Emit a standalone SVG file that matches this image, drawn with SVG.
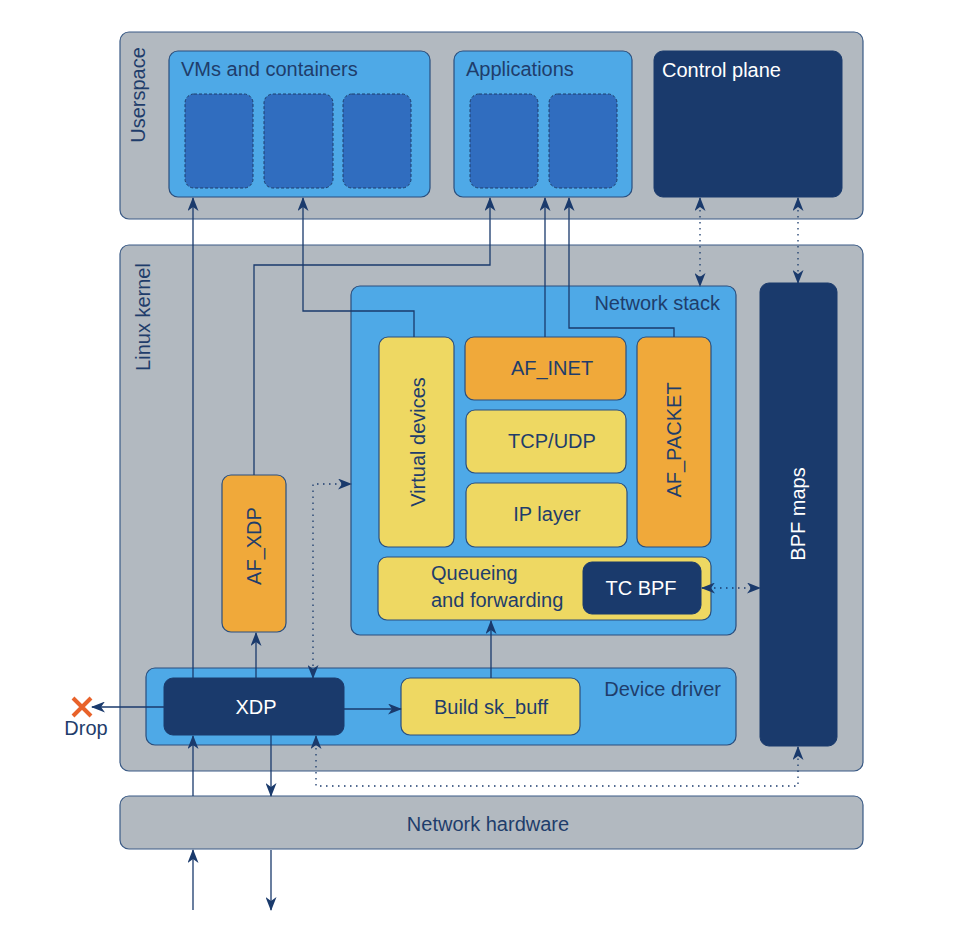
<svg xmlns="http://www.w3.org/2000/svg" width="974" height="944" viewBox="0 0 974 944">
<defs>
<marker id="ah" viewBox="0 0 14 11" refX="13" refY="5.5" markerWidth="14" markerHeight="11" markerUnits="userSpaceOnUse" orient="auto-start-reverse">
<path d="M0,0 L14,5.5 L0,11 L4,5.5 Z" fill="#1a3a6c"/>
</marker>
</defs>
<style>
text{font-family:"Liberation Sans",Arial,sans-serif;font-size:20px;fill:#1f3d6b}
.w{fill:#ffffff}
.gray{fill:#b2b9c0;stroke:#3a5a85;stroke-width:1.2}
.lb{fill:#4ea9e7;stroke:#2a4f7e;stroke-width:1.2}
.dash{fill:#306dbf;stroke:#1f3d6b;stroke-width:1;stroke-dasharray:3 2}
.dk{fill:#1a3a6c;stroke:#1a3a6c;stroke-width:1}
.yl{fill:#eed862;stroke:#2a4f7e;stroke-width:1.2}
.or{fill:#f0a93a;stroke:#2a4f7e;stroke-width:1.2}
.c{fill:none;stroke:#1a3a6c;stroke-width:1.3}
.d{fill:none;stroke:#1a3a6c;stroke-width:1.3;stroke-dasharray:1.5 4.5}
</style>
<g id="userspace">
<rect class="gray" x="120" y="32" width="743" height="187" rx="9"/>
<text transform="translate(145,95) rotate(-90)" text-anchor="middle">Userspace</text>
</g>
<g id="vms">
<rect class="lb" x="169" y="51" width="261" height="146" rx="9"/>
<text x="181" y="76">VMs and containers</text>
<rect class="dash" x="185" y="94" width="68" height="94" rx="9"/>
<rect class="dash" x="264" y="94" width="69" height="94" rx="9"/>
<rect class="dash" x="343" y="94" width="68" height="94" rx="9"/>
</g>
<g id="applications">
<rect class="lb" x="454" y="51" width="178" height="146" rx="9"/>
<text x="466" y="76">Applications</text>
<rect class="dash" x="470" y="94" width="68" height="94" rx="9"/>
<rect class="dash" x="549" y="94" width="68" height="94" rx="9"/>
</g>
<g id="control-plane">
<rect class="dk" x="654" y="51" width="188" height="146" rx="9"/>
<text class="w" x="662" y="77">Control plane</text>
</g>
<g id="linux-kernel">
<rect class="gray" x="120" y="245" width="743" height="526" rx="9"/>
<text transform="translate(150,317) rotate(-90)" text-anchor="middle">Linux kernel</text>
</g>
<g id="network-stack">
<rect class="lb" x="351" y="286" width="385" height="349" rx="9"/>
<text x="720" y="310" text-anchor="end">Network stack</text>
</g>
<g id="virtual-devices">
<rect class="yl" x="379" y="337" width="75" height="210" rx="9"/>
<text transform="translate(418,442) rotate(-90)" text-anchor="middle" dominant-baseline="central">Virtual devices</text>
</g>
<g id="af-inet">
<rect class="or" x="465" y="337" width="161" height="63" rx="9"/>
<text x="552" y="375" text-anchor="middle">AF_INET</text>
</g>
<g id="tcp-udp">
<rect class="yl" x="466" y="410" width="160" height="63" rx="9"/>
<text x="552" y="448" text-anchor="middle">TCP/UDP</text>
</g>
<g id="ip-layer">
<rect class="yl" x="466" y="483" width="161" height="64" rx="9"/>
<text x="547" y="521" text-anchor="middle">IP layer</text>
</g>
<g id="af-packet">
<rect class="or" x="637" y="337" width="74" height="210" rx="9"/>
<text transform="translate(674,440) rotate(-90)" text-anchor="middle" dominant-baseline="central">AF_PACKET</text>
</g>
<g id="queueing">
<rect class="yl" x="378" y="557" width="333" height="63" rx="9"/>
<text x="431" y="580">Queueing</text>
<text x="431" y="607">and forwarding</text>
</g>
<g id="tc-bpf">
<rect class="dk" x="583" y="562" width="118" height="52" rx="9"/>
<text class="w" x="641" y="595" text-anchor="middle">TC BPF</text>
</g>
<g id="bpf-maps">
<rect class="dk" x="760" y="283" width="77" height="463" rx="9"/>
<text class="w" transform="translate(798,514) rotate(-90)" text-anchor="middle" dominant-baseline="central">BPF maps</text>
</g>
<g id="af-xdp">
<rect class="or" x="222" y="475" width="64" height="157" rx="9"/>
<text transform="translate(254,546) rotate(-90)" text-anchor="middle" dominant-baseline="central">AF_XDP</text>
</g>
<g id="device-driver">
<rect class="lb" x="146" y="668" width="590" height="77" rx="9"/>
<text x="721" y="696" text-anchor="end">Device driver</text>
</g>
<g id="xdp">
<rect class="dk" x="164" y="678" width="180" height="57" rx="9"/>
<text class="w" x="256" y="714" text-anchor="middle">XDP</text>
</g>
<g id="build-skbuff">
<rect class="yl" x="401" y="678" width="179" height="57" rx="9"/>
<text x="491" y="714" text-anchor="middle">Build sk_buff</text>
</g>
<g id="network-hardware">
<rect class="gray" x="120" y="796" width="743" height="53" rx="9"/>
<text x="488" y="831" text-anchor="middle">Network hardware</text>
</g>
<g id="drop">
<path d="M73,698 L91,716 M91,698 L73,716" stroke="#e8622a" stroke-width="4" fill="none"/>
<text x="86" y="735" text-anchor="middle">Drop</text>
</g>
<g id="connectors">
<path class="c" d="M193,678 V198" marker-end="url(#ah)"/>
<path class="c" d="M414,337 V311 H303 V198" marker-end="url(#ah)"/>
<path class="c" d="M254,475 V265 H490 V198" marker-end="url(#ah)"/>
<path class="c" d="M545,337 V198" marker-end="url(#ah)"/>
<path class="c" d="M674,337 V328 H569 V198" marker-end="url(#ah)"/>
<path class="d" d="M700,198 V286" marker-start="url(#ah)" marker-end="url(#ah)"/>
<path class="d" d="M798,198 V283" marker-start="url(#ah)" marker-end="url(#ah)"/>
<path class="d" d="M702,588 H760" marker-start="url(#ah)" marker-end="url(#ah)"/>
<path class="d" d="M313,678 V484 H351" marker-start="url(#ah)" marker-end="url(#ah)"/>
<path class="c" d="M256,678 V633" marker-end="url(#ah)"/>
<path class="c" d="M344,709 H401" marker-end="url(#ah)"/>
<path class="c" d="M491,678 V621" marker-end="url(#ah)"/>
<path class="c" d="M164,707 H92" marker-end="url(#ah)"/>
<path class="c" d="M193,796 V736" marker-end="url(#ah)"/>
<path class="c" d="M271,735 V796" marker-end="url(#ah)"/>
<path class="d" d="M316,736 V786 H798 V747" marker-start="url(#ah)" marker-end="url(#ah)"/>
<path class="c" d="M193,910 V850" marker-end="url(#ah)"/>
<path class="c" d="M271,850 V910" marker-end="url(#ah)"/>
</g>
</svg>
